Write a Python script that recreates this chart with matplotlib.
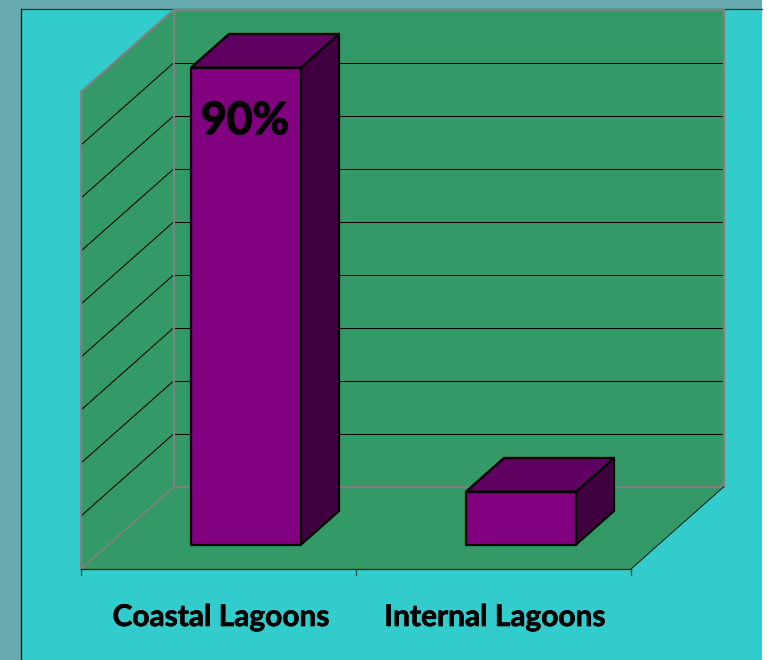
import matplotlib
matplotlib.use("Agg")
import matplotlib.pyplot as plt
import matplotlib.patheffects as pe
from matplotlib.patches import Polygon, Rectangle

categories = ["Coastal Lagoons", "Internal Lagoons"]
shares = [90, 10]
bar_label = "90%"
grid_values = [10, 20, 30, 40, 50, 60, 70, 80]
axis_max = 90

# Oblique projection of the 3D box, in figure pixels
ORIGIN_X, ORIGIN_Y = 81.0, 569.0
CATEGORY_W = 275.0
UNIT_H = 5.3
DEPTH_X, DEPTH_Y = 92.5, -82.0
GAP = 0.3
BAR_W = 0.4
DEPTH_NEAR, DEPTH_FAR = 0.297, 0.708
LABEL_SIZE = 21.5

SKY = "#33CCCC"
WALL = "#339966"
FACE = "#800080"
TOP = "#600060"
SIDE = "#400040"
GREY = "#808080"
FRAME = "#66AAB0"


def project(cat, value, depth):
    """Map category position, value and depth to pixel coordinates."""
    return (ORIGIN_X + cat * CATEGORY_W + depth * DEPTH_X,
            ORIGIN_Y - value * UNIT_H + depth * DEPTH_Y)


def segment(ax, a, b, **style):
    ax.plot([a[0], b[0]], [a[1], b[1]], **style)


fig = plt.figure(figsize=(7.67, 6.6), dpi=100, facecolor="white")
ax = fig.add_axes([0, 0, 1, 1])
ax.set_xlim(0, 767)
ax.set_ylim(660, 0)
ax.axis("off")

# Slide frame and chart background
ax.add_patch(Rectangle((0, 0), 762, 660, fc=FRAME, ec="none", zorder=0))
ax.add_patch(Rectangle((20.5, 8.5), 741.5, 652, fc=SKY, ec="none", zorder=0.5))
ax.plot([20.5, 20.5], [660, 8.5], color="black", lw=0.9, zorder=1)
ax.plot([20.5, 762], [8.5, 8.5], color="#0A3A40", lw=0.9, zorder=1)

n = len(categories)
back_wall = [project(0, 0, 1), project(n, 0, 1), project(n, axis_max, 1), project(0, axis_max, 1)]
side_wall = [project(0, 0, 0), project(0, 0, 1), project(0, axis_max, 1), project(0, axis_max, 0)]
floor = [project(0, 0, 0), project(n, 0, 0), project(n, 0, 1), project(0, 0, 1)]
for poly in (back_wall, side_wall, floor):
    ax.add_patch(Polygon(poly, closed=True, fc=WALL, ec="none", zorder=2))

# Gridlines run across the back wall and down the side wall
for v in grid_values:
    grid = dict(color="black", lw=0.75, zorder=3)
    segment(ax, project(0, v, 0), project(0, v, 1), **grid)
    segment(ax, project(0, v, 1), project(n, v, 1), **grid)

# Wall outlines
outline = dict(color=GREY, lw=1.6, zorder=4, solid_capstyle="projecting")
segment(ax, project(0, 0, 0), project(0, axis_max, 0), **outline)
segment(ax, project(0, axis_max, 0), project(0, axis_max, 1), **outline)
segment(ax, project(0, 0, 1), project(0, axis_max, 1), **outline)
segment(ax, project(0, axis_max, 1), project(n, axis_max, 1), **outline)
segment(ax, project(n, axis_max, 1), project(n, 0, 1), **outline)
segment(ax, project(0, 0, 1), project(n, 0, 1), **outline)
segment(ax, project(0, 0, 0), project(0, 0, 1), color=GREY, lw=1.2, zorder=4)

# Floor front edge, right edge and category ticks
segment(ax, project(0, 0, 0), project(n, 0, 0), color="#06231c", lw=0.9, zorder=4)
segment(ax, project(n, 0, 0), project(n, 0, 1), color="#06231c", lw=0.75, zorder=4)
for i in range(n + 1):
    x, y = project(i, 0, 0)
    segment(ax, (x, y), (x, y + 6), color="#0A4A4A", lw=0.9, zorder=4)

# Bars
for i, value in enumerate(shares):
    left, right = i + GAP, i + GAP + BAR_W
    front_face = [project(left, 0, DEPTH_NEAR), project(right, 0, DEPTH_NEAR),
                  project(right, value, DEPTH_NEAR), project(left, value, DEPTH_NEAR)]
    side_face = [project(right, 0, DEPTH_NEAR), project(right, 0, DEPTH_FAR),
                 project(right, value, DEPTH_FAR), project(right, value, DEPTH_NEAR)]
    top_face = [project(left, value, DEPTH_NEAR), project(right, value, DEPTH_NEAR),
                project(right, value, DEPTH_FAR), project(left, value, DEPTH_FAR)]
    for poly, colour in ((side_face, SIDE), (top_face, TOP), (front_face, FACE)):
        ax.add_patch(Polygon(poly, closed=True, fc=colour, ec="black", lw=1.6,
                             joinstyle="round", zorder=5 + 0.1 * i))

FONT = ["Lato", "DejaVu Sans"]
heavy = [pe.withStroke(linewidth=1.0, foreground="black", capstyle="round", joinstyle="round")]
medium = [pe.withStroke(linewidth=0.5, foreground="black", capstyle="round", joinstyle="round")]
ax.text(245, 121, bar_label, ha="center", va="center", fontsize=32, fontweight="bold",
        family=FONT, color="black", zorder=7, path_effects=heavy)
label_centres = [221, 495]
for cx, label in zip(label_centres, categories):
    ax.text(cx, 617, label, ha="center", va="center", fontsize=LABEL_SIZE, fontweight="bold",
            family=FONT, color="black", zorder=7, path_effects=medium)

fig.savefig("out.png", dpi=100)
